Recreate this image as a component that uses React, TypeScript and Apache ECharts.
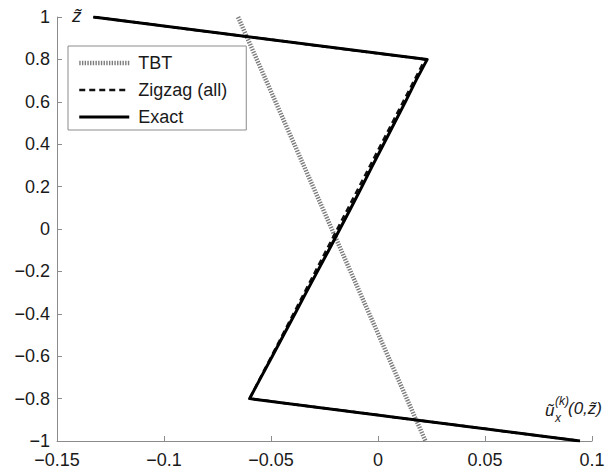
import React, { useEffect, useRef } from 'react';
import * as echarts from 'echarts';

// TBT (straight line)
const tbtX = [-0.0654, 0.0222];
const tbtZ = [1, -1];

// Zigzag (all)
const zigX = [-0.133, 0.022, -0.06, 0.0944];
const zigZ = [1, 0.8, -0.8, -1];

// Exact
const exactX = [-0.133, 0.023, 0.0177, 0.0128, 0.0077, 0.0026, -0.0025, -0.0075, -0.0126, -0.0178, -0.023, -0.0283, -0.0336, -0.0388, -0.0441, -0.0494, -0.0547, -0.06, 0.0944];
const exactZ = [1, 0.8, 0.7, 0.6, 0.5, 0.4, 0.3, 0.2, 0.1, 0, -0.1, -0.2, -0.3, -0.4, -0.5, -0.6, -0.7, -0.8, -1];

const seriesNames = ['TBT', 'Zigzag (all)', 'Exact'];
const xTicks = [-0.15, -0.1, -0.05, 0, 0.05, 0.1];
const yTicks = [-1, -0.8, -0.6, -0.4, -0.2, 0, 0.2, 0.4, 0.6, 0.8, 1];

const pairs = (xs: number[], zs: number[]) => xs.map((x, i) => [x, zs[i]]);
const fmt = (v: number, ticks: number[]) => {
  const t = ticks.find((k) => Math.abs(k - v) < 1e-9);
  const val = t === undefined ? v : t;
  return String(val).replace('-', '\u2212');
};

const FONT = '"Liberation Sans", Arial, sans-serif';
const AXIS_COLOR = '#8c8c8c';
const TXT = '#1a1a1a';

const tbtStyle = { color: '#7d7d7d', width: 4.5, type: [1.4, 1.3] };
const zigStyle = { color: '#111111', width: 2.5, type: [6, 4] };
const exactStyle = { color: '#000000', width: 3, join: 'round' };

export default function App() {
  const ref = useRef<HTMLDivElement>(null);
  useEffect(() => {
    document.body.style.margin = '0';
    if (!ref.current) return;
    const chart = echarts.init(ref.current, undefined, { renderer: 'svg' });
    const it = (t: string, x: number, y: number, size: number) => ({
      type: 'text',
      x,
      y,
      style: { text: t, fontSize: size, fontStyle: 'italic', fontFamily: FONT, fill: TXT, verticalAlign: 'top' },
    });
    chart.setOption({
      animation: false,
      backgroundColor: '#ffffff',
      textStyle: { fontFamily: FONT },
      grid: { left: 57, right: 18, top: 17, bottom: 30 },
      xAxis: {
        type: 'value',
        min: -0.15,
        max: 0.1,
        interval: 0.05,
        axisLine: { show: true, onZero: false, lineStyle: { color: AXIS_COLOR, width: 1 } },
        axisTick: { show: true, inside: true, length: 5, lineStyle: { color: AXIS_COLOR } },
        splitLine: { show: false },
        axisLabel: {
          fontSize: 18,
          color: TXT,
          fontFamily: FONT,
          margin: 10,
          formatter: (v: number) => fmt(v, xTicks),
        },
      },
      yAxis: {
        type: 'value',
        min: -1,
        max: 1,
        interval: 0.2,
        axisLine: { show: true, onZero: false, lineStyle: { color: AXIS_COLOR, width: 1 } },
        axisTick: { show: true, inside: true, length: 5, lineStyle: { color: AXIS_COLOR } },
        splitLine: { show: false },
        axisLabel: {
          fontSize: 18,
          color: TXT,
          fontFamily: FONT,
          margin: 7,
          formatter: (v: number) => fmt(v, yTicks),
        },
      },
      legend: {
        data: [
          { name: seriesNames[0], lineStyle: tbtStyle },
          { name: seriesNames[1], lineStyle: zigStyle },
          { name: seriesNames[2], lineStyle: exactStyle },
        ],
        orient: 'vertical',
        left: 68,
        top: 46,
        itemWidth: 50,
        itemHeight: 14,
        itemGap: 9,
        padding: [8, 19, 4, 9],
        borderColor: '#8c8c8c',
        borderWidth: 1,
        backgroundColor: '#ffffff',
        itemStyle: { opacity: 0 },
        textStyle: { fontSize: 18, color: TXT, fontFamily: FONT, padding: [0, 0, 0, 4] },
      },
      series: [
        {
          name: seriesNames[0],
          type: 'line',
          data: pairs(tbtX, tbtZ),
          symbol: 'none',
          z: 2,
          lineStyle: tbtStyle,
          itemStyle: { color: '#7d7d7d' },
        },
        {
          name: seriesNames[1],
          type: 'line',
          data: pairs(zigX, zigZ),
          symbol: 'none',
          z: 3,
          lineStyle: zigStyle,
          itemStyle: { color: '#111111' },
        },
        {
          name: seriesNames[2],
          type: 'line',
          data: pairs(exactX, exactZ),
          symbol: 'none',
          z: 4,
          lineStyle: exactStyle,
          itemStyle: { color: '#000000' },
        },
      ],
      graphic: [
        {
          type: 'text',
          left: 72,
          top: 6,
          style: { text: 'z\u0303', fontSize: 19, fontStyle: 'italic', fontFamily: FONT, fill: TXT },
        },
        it('\u0169', 545, 402, 17),
        it('(k)', 555, 395, 12),
        it('x', 555, 412, 12),
        it('(0,z\u0303)', 568, 400, 17),
      ],
    });
    return () => chart.dispose();
  }, []);
  return <div ref={ref} style={{ width: 610, height: 471 }} />;
}
